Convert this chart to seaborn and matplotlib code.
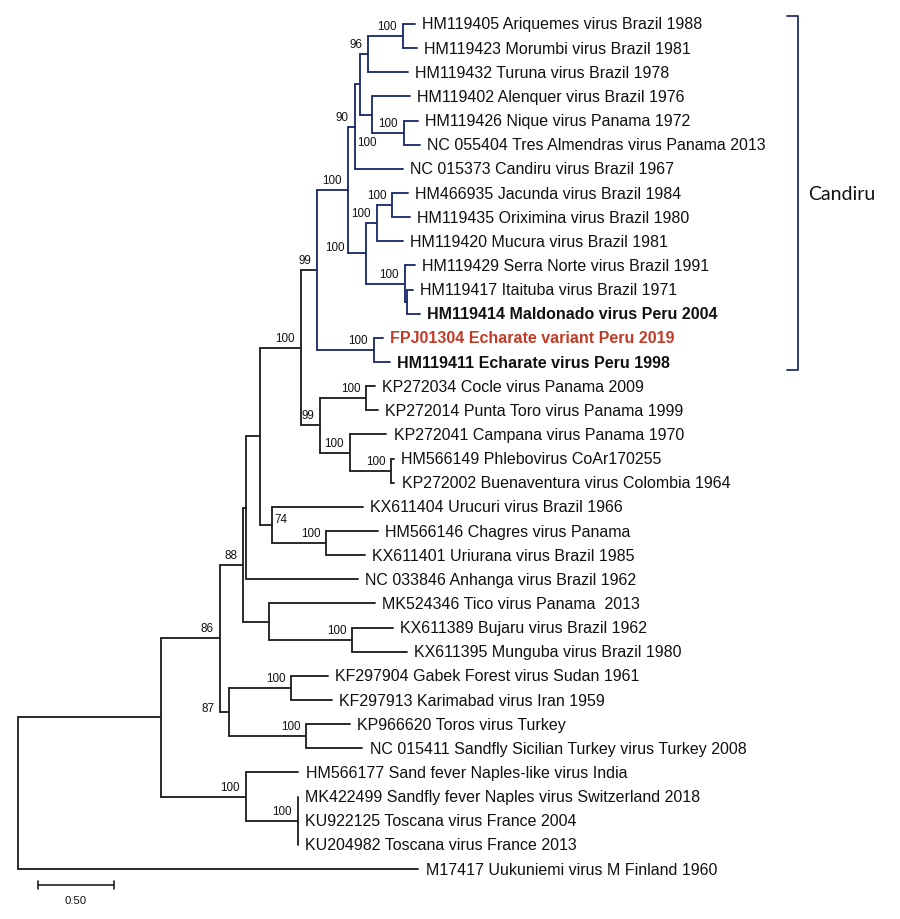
import numpy as np
import pandas as pd
import seaborn as sns
import matplotlib.pyplot as plt

# tip labels, top to bottom
tips = [
    'HM119405 Ariquemes virus Brazil 1988',
    'HM119423 Morumbi virus Brazil 1981',
    'HM119432 Turuna virus Brazil 1978',
    'HM119402 Alenquer virus Brazil 1976',
    'HM119426 Nique virus Panama 1972',
    'NC 055404 Tres Almendras virus Panama 2013',
    'NC 015373 Candiru virus Brazil 1967',
    'HM466935 Jacunda virus Brazil 1984',
    'HM119435 Oriximina virus Brazil 1980',
    'HM119420 Mucura virus Brazil 1981',
    'HM119429 Serra Norte virus Brazil 1991',
    'HM119417 Itaituba virus Brazil 1971',
    'HM119414 Maldonado virus Peru 2004',
    'FPJ01304 Echarate variant Peru 2019',
    'HM119411 Echarate virus Peru 1998',
    'KP272034 Cocle virus Panama 2009',
    'KP272014 Punta Toro virus Panama 1999',
    'KP272041 Campana virus Panama 1970',
    'HM566149 Phlebovirus CoAr170255',
    'KP272002 Buenaventura virus Colombia 1964',
    'KX611404 Urucuri virus Brazil 1966',
    'HM566146 Chagres virus Panama',
    'KX611401 Uriurana virus Brazil 1985',
    'NC 033846 Anhanga virus Brazil 1962',
    'MK524346 Tico virus Panama  2013',
    'KX611389 Bujaru virus Brazil 1962',
    'KX611395 Munguba virus Brazil 1980',
    'KF297904 Gabek Forest virus Sudan 1961',
    'KF297913 Karimabad virus Iran 1959',
    'KP966620 Toros virus Turkey',
    'NC 015411 Sandfly Sicilian Turkey virus Turkey 2008',
    'HM566177 Sand fever Naples-like virus India',
    'MK422499 Sandfly fever Naples virus Switzerland 2018',
    'KU922125 Toscana virus France 2004',
    'KU204982 Toscana virus France 2013',
    'M17417 Uukuniemi virus M Finland 1960',
]

# topology with branch lengths (substitutions/site) and bootstrap values, tN = tips[N]
tree = """
(((((((((((((t0:0.079,t1:0.092)100:0.228,t2:0.261)96:0.055,
(t3:0.245,(t4:0.092,t5:0.105)100:0.206)100:0.083):0.033,t6:0.316)90:0.044,
(((t7:0.100,t8:0.114)100:0.101,t9:0.169)100:0.070,
(t10:0.066,(t11:0.037,t12:0.083):0.015)100:0.252)100:0.121)100:0.206,
(t13:0.059,t14:0.105)100:0.375)99:0.105,
((t15:0.055,t16:0.074)100:0.307,(t17:0.241,(t18:0.015,t19:0.018)100:0.274)100:0.197)99:0.125)100:0.270,
(t20:0.594,(t21:0.338,t22:0.252)100:0.355)74:0.083):0.0875,t23:0.732):0.022,
(t24:0.697,(t25:0.265,t26:0.357)100:0.550):0.169)88:0.155,
((t27:0.239,t28:0.265)100:0.412,(t29:0.285,t30:0.368)100:0.511)87:0.061)86:0.386,
(t31:0.344,(t32:0,t33:0,t34:0)100:0.342)100:0.559):0.940,t35:2.632);
"""

clade_tips = list(range(15))
clade_name = 'Candiru'
bold_tips = [12, 13, 14]
red_tips = [13]
scale_length = 0.50

NAVY = '#1f2d70'
INK = '#222222'
RED = '#c23b26'


def parse_newick(s):
    s = ''.join(s.split())
    pos = 0

    def node():
        nonlocal pos
        n = {'children': [], 'name': '', 'length': 0.0}
        if s[pos] == '(':
            pos += 1
            while True:
                n['children'].append(node())
                ch = s[pos]
                pos += 1
                if ch == ')':
                    break
        start = pos
        while s[pos] not in ':,);':
            pos += 1
        n['name'] = s[start:pos]
        if s[pos] == ':':
            pos += 1
            start = pos
            while s[pos] not in ',);':
                pos += 1
            n['length'] = float(s[start:pos])
        return n

    return node()


def layout(n, x0=0.0):
    n['x'] = x0 + n['length']
    if n['children']:
        for c in n['children']:
            layout(c, n['x'])
        n['y'] = (n['children'][0]['y'] + n['children'][-1]['y']) / 2
        n['tips'] = set().union(*(c['tips'] for c in n['children']))
    else:
        n['y'] = int(n['name'][1:])
        n['tips'] = {n['y']}


root = parse_newick(tree)
layout(root)
clade = set(clade_tips)

rows = []
nodes = []


def collect(n, parent=None):
    nodes.append(n)
    if parent is not None:
        g = 'clade' if parent['tips'] <= clade else 'other'
        k = len(rows)
        rows.append((k, parent['x'], n['y'], g))
        rows.append((k, n['x'], n['y'], g))
    if n['children']:
        g = 'clade' if n['tips'] <= clade else 'other'
        k = len(rows)
        rows.append((k, n['x'], n['children'][0]['y'], g))
        rows.append((k, n['x'], n['children'][-1]['y'], g))
        for c in n['children']:
            collect(c, n)


collect(root)
seg = pd.DataFrame(rows, columns=['seg', 'x', 'y', 'group'])

sns.set_theme(style='white')
plt.rcParams['font.family'] = ['Liberation Sans', 'DejaVu Sans']

fig = plt.figure(figsize=(9, 9.2), dpi=100)
ax = fig.add_axes([0, 0, 1, 1])

sns.lineplot(data=seg, x='x', y='y', units='seg', estimator=None, hue='group',
             palette={'clade': NAVY, 'other': INK}, sort=False, legend=False,
             lw=1.35, ax=ax)

# tip labels
for n in nodes:
    if n['children']:
        continue
    i = n['y']
    ax.annotate(tips[i], xy=(n['x'], i), xytext=(5.5, 0), textcoords='offset points',
                ha='left', va='center', fontsize=11.5,
                fontweight='bold' if i in bold_tips else 'normal',
                color=RED if i in red_tips else '#111111')

# bootstrap values
nudge = {
    (3, 5): ((-4, -19.5), 'center'),
    (7, 12): ((-15.6, 4.3), 'right'),
    (20, 22): ((1.5, 4.3), 'left'),
    (27, 30): ((-10, 2.9), 'right'),
}
for n in nodes:
    if not n['children'] or not n['name']:
        continue
    key = (min(n['tips']), max(n['tips']))
    off, ha = nudge.get(key, ((-4.3, 7.2), 'right'))
    ax.annotate(n['name'], xy=(n['x'], n['y']), xytext=off, textcoords='offset points',
                ha=ha, va='center', fontsize=8.4, color='#111111')

# clade bracket
bx = 5.13
top, bot = min(clade) - 0.35, max(clade) + 0.35
ax.plot([bx - 0.07, bx, bx, bx - 0.07], [top, top, bot, bot], color=NAVY, lw=1.3)
ax.text(bx + 0.065, (top + bot) / 2, clade_name, fontsize=14, family='Lato',
        ha='left', va='center', color='#111111')

# scale bar
sy = len(tips) - 1 + 0.66
sx = 0.13
ax.plot([sx, sx + scale_length], [sy, sy], color=INK, lw=1.2)
for xx in (sx, sx + scale_length):
    ax.plot([xx, xx], [sy - 0.17, sy + 0.17], color=INK, lw=1.2)
ax.text(sx + scale_length / 2, sy + 0.62, f'{scale_length:.2f}', fontsize=8.2,
        ha='center', va='center', color='#111111')

ax.set_xlim(-18 / 152, 882 / 152)
ax.set_ylim(895 / 24.143, -25 / 24.143)
ax.axis('off')

fig.savefig('out.png', dpi=100)
